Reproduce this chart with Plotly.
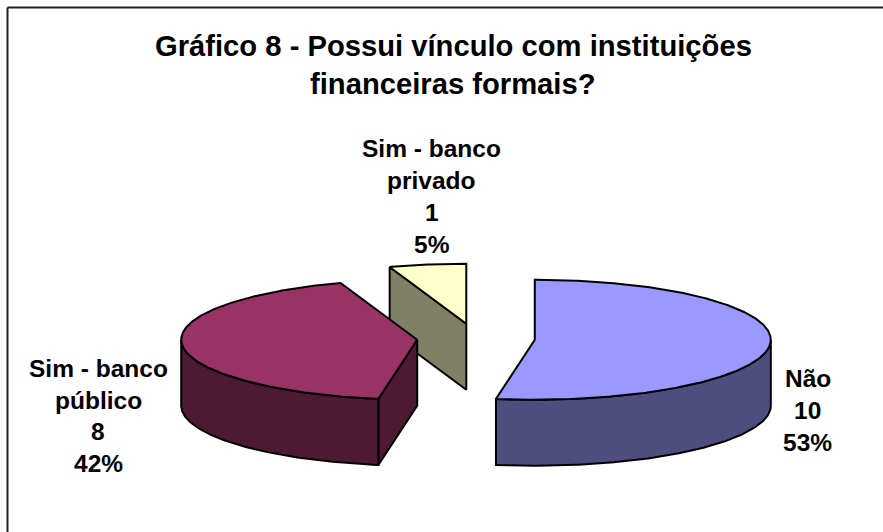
import math
import plotly.graph_objects as go

categories = ["Não", "Sim - banco público", "Sim - banco privado"]
values = [10, 8, 1]
label_lines = [["Não"], ["Sim - banco", "público"], ["Sim - banco", "privado"]]
top_colors = ["#9999FF", "#993366", "#FFFFCC"]
side_colors = ["#4D4D80", "#4D1933", "#808066"]
title_lines = ["Gráfico 8 - Possui vínculo com instituições", "financeiras formais?"]

W, H = 883, 532
CX, CY, RX, RY, DEPTH, EXPLODE = 476, 338.5, 236, 60, 66, 0.25
LABEL_POS = [(807.5, 378.5, 32), (98, 368.5, 31.5), (431.5, 148.3, 32)]
TITLE_SIZE, LABEL_SIZE = 29.2, 24.5
FONT = "Liberation Sans, Arial, sans-serif"


def point(cx, cy, deg):
    a = math.radians(deg)
    return cx + RX * math.sin(a), cy - RY * math.cos(a)


total = sum(values)
slices = []
start = 0.0
for v in values:
    sweep = 360.0 * v / total
    mid = math.radians(start + sweep / 2)
    slices.append({
        "start": start,
        "end": start + sweep,
        "ax": CX + EXPLODE * RX * math.sin(mid),
        "ay": CY - EXPLODE * RY * math.cos(mid),
    })
    start += sweep

fig = go.Figure()


def poly(xs, ys, fill):
    fig.add_trace(go.Scatter(
        x=xs, y=ys, mode="lines", fill="toself", fillcolor=fill,
        line=dict(color="black", width=2), hoverinfo="skip", showlegend=False))


def draw(i):
    s = slices[i]
    ax, ay = s["ax"], s["ay"]
    n = max(2, int(s["end"] - s["start"]) * 2)
    angles = [s["start"] + (s["end"] - s["start"]) * k / n for k in range(n + 1)]
    rim = [point(ax, ay, d) for d in angles]

    # cut faces: visible when they face the viewer
    for edge in (s["start"], s["end"]):
        ex, ey = point(ax, ay, edge)
        faces_front = (edge == s["start"] and math.sin(math.radians(edge)) < 0) or \
                      (edge == s["end"] and math.sin(math.radians(edge)) < 0 and i == 2)
        if faces_front and edge != 360.0:
            poly([ax, ex, ex, ax, ax], [ay, ey, ey + DEPTH, ay + DEPTH, ay], side_colors[i])

    # outer wall: only the part of the rim on the near half
    front = [p for p, d in zip(rim, angles) if 90 <= d <= 270]
    if front:
        xs = [p[0] for p in front] + [p[0] for p in reversed(front)] + [front[0][0]]
        ys = [p[1] for p in front] + [p[1] + DEPTH for p in reversed(front)] + [front[0][1]]
        poly(xs, ys, side_colors[i])

    # top
    poly([ax] + [p[0] for p in rim] + [ax], [ay] + [p[1] for p in rim] + [ay], top_colors[i])


for i in (2, 0, 1):
    draw(i)

annotations = []
for j, line in enumerate(title_lines):
    annotations.append(dict(x=453, y=46 + j * 38, text=f"<b>{line}</b>", showarrow=False,
                            xref="x", yref="y", font=dict(size=TITLE_SIZE, family=FONT, color="black")))
for lines, v, (lx, ly, step) in zip(label_lines, values, LABEL_POS):
    rows = lines + [str(v), f"{round(100 * v / total)}%"]
    for j, row in enumerate(rows):
        annotations.append(dict(x=lx, y=ly + j * step, text=f"<b>{row}</b>", showarrow=False,
                                xref="x", yref="y", font=dict(size=LABEL_SIZE, family=FONT, color="black")))

fig.update_layout(
    width=W, height=H, autosize=False,
    margin=dict(l=0, r=0, t=0, b=0),
    paper_bgcolor="white", plot_bgcolor="white",
    showlegend=False,
    xaxis=dict(range=[0, W], visible=False, fixedrange=True),
    yaxis=dict(range=[H, 0], visible=False, fixedrange=True),
    annotations=annotations,
    shapes=[
        dict(type="line", xref="x", yref="y", x0=7.5, x1=7.5, y0=7.5, y1=H, line=dict(color="#222222", width=2)),
        dict(type="line", xref="x", yref="y", x0=7.5, x1=W, y0=7.5, y1=7.5, line=dict(color="#222222", width=2)),
    ],
)
fig.write_html("out.html", config={"displayModeBar": False},
               post_script="document.body.style.margin='0';document.documentElement.style.overflow='hidden';")
